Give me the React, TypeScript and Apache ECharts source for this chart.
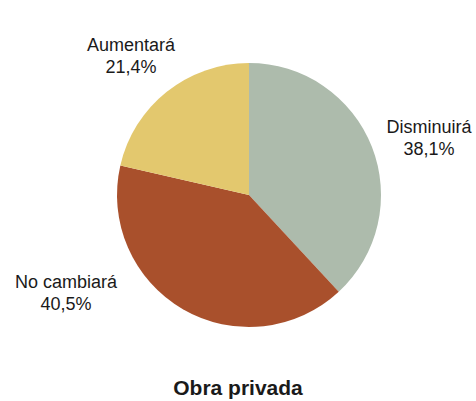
import React, { useEffect, useRef } from "react";
import * as echarts from "echarts";

const categories = ["Disminuirá", "No cambiará", "Aumentará"];
const values = [38.1, 40.5, 21.4];
const colors = ["#adbbac", "#a9502c", "#e3c86e"];

// label anchor points (text centre) for each slice
const labelPos = [
  [429, 138],
  [66, 293],
  [131, 56],
];

const fmt = (v: number) => v.toFixed(1).replace(".", ",") + "%";

const App: React.FC = () => {
  const chartRef = useRef<HTMLDivElement>(null);

  useEffect(() => {
    document.body.style.margin = "0";
    if (!chartRef.current) return;
    const chart = echarts.init(chartRef.current, undefined, { renderer: "svg" });

    const option: echarts.EChartsOption = {
      animation: false,
      title: {
        text: "Obra privada",
        left: "center",
        top: 372,
        textStyle: {
          fontFamily: "Liberation Sans",
          fontSize: 21,
          fontWeight: "bold",
          color: "#1a1a1a",
        },
      },
      series: [
        {
          type: "pie",
          center: [249, 195],
          radius: 132,
          startAngle: 90,
          clockwise: true,
          silent: true,
          data: categories.map((name, i) => ({
            name,
            value: values[i],
            itemStyle: { color: colors[i] },
          })),
          label: {
            show: true,
            formatter: (p: any) => `${p.name}\n${fmt(p.value)}`,
            fontFamily: "Liberation Sans",
            fontSize: 18,
            lineHeight: 22,
            color: "#1a1a1a",
            align: "center",
            overflow: "none",
            width: 140,
          },
          labelLine: { show: false },
          labelLayout: (p: any) => ({
            x: labelPos[p.dataIndex][0],
            y: labelPos[p.dataIndex][1],
            align: "center",
            verticalAlign: "middle",
          }),
        },
      ],
    };

    chart.setOption(option);
    return () => chart.dispose();
  }, []);

  return <div ref={chartRef} style={{ width: 476, height: 401 }} />;
};

export default App;
